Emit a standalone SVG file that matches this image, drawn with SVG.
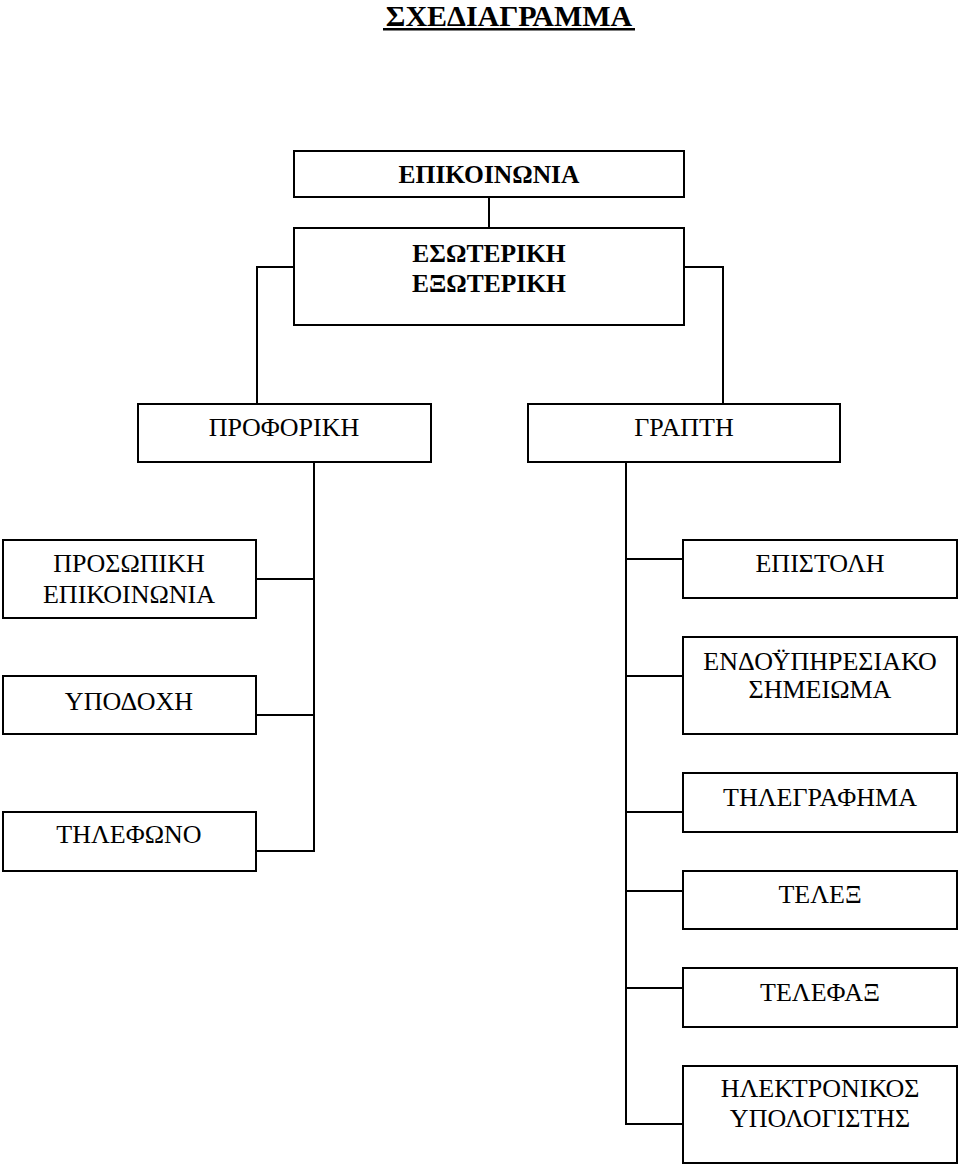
<svg xmlns="http://www.w3.org/2000/svg" width="960" height="1165" viewBox="0 0 960 1165">
<style>
.box{fill:#fff;stroke:#000;stroke-width:2}
.ln{fill:none;stroke:#000;stroke-width:2}
text{font-family:"Liberation Serif","Times New Roman",serif;font-size:26px;fill:#000;text-anchor:middle}
.b{font-weight:bold;font-size:25.5px}
.t{font-weight:bold;font-size:30px}
</style>
<rect width="960" height="1165" fill="#fff"/>
<g id="title">
<text class="t" x="509" y="26">ΣΧΕΔΙΑΓΡΑΜΜΑ</text>
<rect x="383" y="28" width="252" height="2.5" fill="#000"/>
</g>
<g id="connectors">
<path class="ln" d="M489,197V228"/>
<path class="ln" d="M294,267H257V404"/>
<path class="ln" d="M684,267H723V404"/>
<path class="ln" d="M314,462V851H256M256,579H314M256,715H314"/>
<path class="ln" d="M626,462V1124H683M626,559H683M626,676H683M626,812H683M626,891H683M626,988H683"/>
</g>
<g id="n-epikoinonia"><rect class="box" x="294" y="151" width="390" height="46"/><text class="b" x="489" y="183">ΕΠΙΚΟΙΝΩΝΙΑ</text></g>
<g id="n-esoteriki"><rect class="box" x="294" y="228" width="390" height="97"/><text class="b" x="489" y="262">ΕΣΩΤΕΡΙΚΗ</text><text class="b" x="489" y="292">ΕΞΩΤΕΡΙΚΗ</text></g>
<g id="n-proforiki"><rect class="box" x="138" y="404" width="293" height="58"/><text x="284" y="436">ΠΡΟΦΟΡΙΚΗ</text></g>
<g id="n-grapti"><rect class="box" x="528" y="404" width="312" height="58"/><text x="684" y="436">ΓΡΑΠΤΗ</text></g>
<g id="n-prosopiki"><rect class="box" x="3" y="540" width="253" height="78"/><text x="129" y="572">ΠΡΟΣΩΠΙΚΗ</text><text x="129" y="603">ΕΠΙΚΟΙΝΩΝΙΑ</text></g>
<g id="n-ypodoxi"><rect class="box" x="3" y="676" width="253" height="58"/><text x="129" y="710">ΥΠΟΔΟΧΗ</text></g>
<g id="n-tilefono"><rect class="box" x="3" y="812" width="253" height="59"/><text x="129" y="843">ΤΗΛΕΦΩΝΟ</text></g>
<g id="n-epistoli"><rect class="box" x="683" y="540" width="274" height="58"/><text x="820" y="572">ΕΠΙΣΤΟΛΗ</text></g>
<g id="n-endo"><rect class="box" x="683" y="637" width="274" height="97"/><text x="820" y="670">ΕΝΔΟΫΠΗΡΕΣΙΑΚΟ</text><text x="820" y="698">ΣΗΜΕΙΩΜΑ</text></g>
<g id="n-tilegrafima"><rect class="box" x="683" y="773" width="274" height="59"/><text x="820" y="806">ΤΗΛΕΓΡΑΦΗΜΑ</text></g>
<g id="n-telex"><rect class="box" x="683" y="871" width="274" height="58"/><text x="820" y="903">ΤΕΛΕΞ</text></g>
<g id="n-telefax"><rect class="box" x="683" y="968" width="274" height="59"/><text x="820" y="1001">ΤΕΛΕΦΑΞ</text></g>
<g id="n-ypologistis"><rect class="box" x="683" y="1066" width="274" height="97"/><text x="820" y="1097">ΗΛΕΚΤΡΟΝΙΚΟΣ</text><text x="820" y="1127">ΥΠΟΛΟΓΙΣΤΗΣ</text></g>
</svg>
